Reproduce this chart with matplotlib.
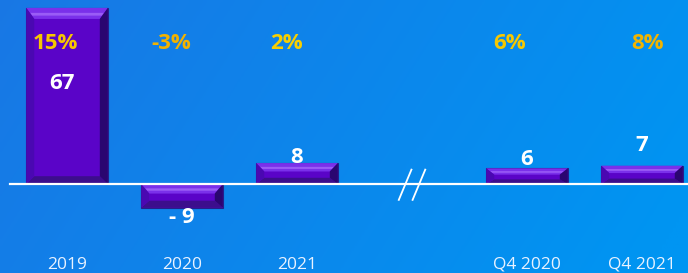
import numpy as np
import matplotlib.pyplot as plt
from matplotlib.patches import Polygon

categories = ['2019', '2020', '2021', 'Q4 2020', 'Q4 2021']
positions = [0, 1, 2, 4, 5]
values = [67, -9, 8, 6, 7]
value_labels = ['67', '- 9', '8', '6', '7']
growth_labels = ['15%', '-3%', '2%', '6%', '8%']
growth_colors = ['#F7C600', '#F2B200', '#F8CF00', '#F7C800', '#F2B400']

plt.rcParams['font.family'] = ['Open Sans', 'DejaVu Sans']

fig = plt.figure(figsize=(6.88, 2.73), dpi=100)
ax = fig.add_axes([0, 0, 1, 1])
ax.set_xlim(-0.583, 5.4)
ax.set_ylim(-33.8, 70)
ax.axis('off')

# background gradient, darker on the left
gx, gy = np.meshgrid(np.linspace(0, 1, 200), np.linspace(0, 1, 100))
t = np.clip(0.8 * gx + 0.2 * gy + 0.05, 0, 1)
c0 = np.array([0x1A, 0x76, 0xE4]) / 255
c1 = np.array([0x00, 0x95, 0xF2]) / 255
img = c0[None, None, :] * (1 - t[..., None]) + c1[None, None, :] * t[..., None]
ax.imshow(img, extent=[-0.583, 5.4, -33.8, 70], aspect='auto', zorder=0, origin='upper')

width = 0.71
bars = ax.bar(positions, values, width=width, color='#5A04C8', edgecolor='#23208A',
              linewidth=0.8, zorder=2)

# bevel effect on each bar
for b in bars:
    x0 = b.get_x()
    x1 = x0 + b.get_width()
    y0 = min(b.get_y(), b.get_y() + b.get_height())
    y1 = max(b.get_y(), b.get_y() + b.get_height())
    h = y1 - y0
    if h > 20:
        dx, dy, dyb = 0.07, 4.2, 3.0
    else:
        dx, dy, dyb = 0.07, h * 0.4, h * 0.3
    top = Polygon([[x0, y1], [x1, y1], [x1 - dx, y1 - dy], [x0 + dx, y1 - dy]],
                  closed=True, color='#7A30EA', zorder=3, lw=0)
    hl = Polygon([[x0 + dx * 0.5, y1 - dy * 0.45], [x1 - dx * 0.5, y1 - dy * 0.45],
                  [x1 - dx * 0.75, y1 - dy * 0.7], [x0 + dx * 0.75, y1 - dy * 0.7]],
                 closed=True, color='#9A5CF6', zorder=3, lw=0)
    bot = Polygon([[x0, y0], [x1, y0], [x1 - dx, y0 + dyb], [x0 + dx, y0 + dyb]],
                  closed=True, color='#3C0E8C', zorder=3, lw=0)
    left = Polygon([[x0, y0], [x0, y1], [x0 + dx, y1 - dy], [x0 + dx, y0 + dyb]],
                   closed=True, color='#4A08B2', zorder=3, lw=0)
    right = Polygon([[x1, y0], [x1, y1], [x1 - dx, y1 - dy], [x1 - dx, y0 + dyb]],
                    closed=True, color='#2A0670', zorder=3, lw=0)
    for p in (top, hl, bot, left, right):
        ax.add_patch(p)

# baseline and break mark
ax.plot([-0.5, 5.4], [0, 0], color='white', lw=1.6, zorder=4)
for off in (-0.06, 0.06):
    ax.plot([3 + off - 0.055, 3 + off + 0.055], [-6, 5.5], color='white', lw=1.3, zorder=4)

# labels
label_offsets = [-28.6, -3.6, 2.0, 3.5, 7.6]
label_dx = [-0.045, 0, 0, 0, 0]
for x, v, lab, off, ddx in zip(positions, values, value_labels, label_offsets, label_dx):
    ax.text(x + ddx, v + off, lab, color='white', fontsize=16, fontweight='bold',
            ha='center', va='center', zorder=5)

growth_dx = [-0.1, -0.09, -0.09, -0.15, 0.05]
for x, lab, col, ddx in zip(positions, growth_labels, growth_colors, growth_dx):
    ax.text(x + ddx, 53.6, lab, color=col, fontsize=16, fontweight='bold',
            ha='center', va='center', zorder=5)

for x, lab in zip(positions, categories):
    ax.text(x, -30.6, lab, color='#E8F2FF', fontsize=12.5,
            ha='center', va='center', zorder=5)

fig.savefig('out.png', dpi=100)
